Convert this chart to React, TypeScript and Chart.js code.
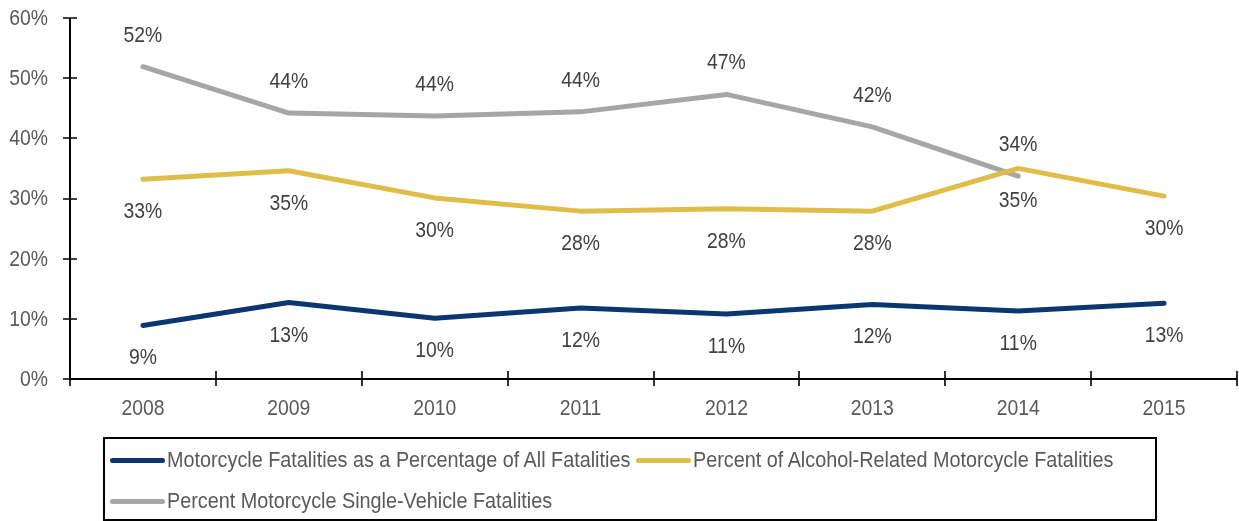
import React, { useEffect, useRef } from "react";
import { Chart, registerables } from "chart.js";

Chart.register(...registerables);

const years = ["2008", "2009", "2010", "2011", "2012", "2013", "2014", "2015"];
const motoShare = [8.9, 12.7, 10.1, 11.8, 10.8, 12.4, 11.3, 12.6];
const alcoholShare = [33.2, 34.6, 30.1, 27.9, 28.3, 27.9, 35.0, 30.4];
const singleVehicle: (number | null)[] = [51.9, 44.2, 43.7, 44.4, 47.3, 41.9, 33.7, null];
const seriesNames = [
  "Motorcycle Fatalities as a Percentage of All Fatalities",
  "Percent of Alcohol-Related Motorcycle Fatalities",
  "Percent Motorcycle Single-Vehicle Fatalities",
];
const seriesColors = ["#0B3770", "#E0BD48", "#A6A6A6"];
const labelOffsets = [33, 33, -31];
const yMin = 0;
const yMax = 60;
const yStep = 10;

const FONT = "'Liberation Sans', Arial, sans-serif";
const FONT_SIZE = 21.5;
const SCALE_X = 0.9;

function drawText(ctx: any, text: string, x: number, y: number, align: string) {
  ctx.save();
  ctx.translate(x, y);
  ctx.scale(SCALE_X, 1);
  ctx.textAlign = align;
  ctx.textBaseline = "middle";
  ctx.fillText(text, 0, 0);
  ctx.restore();
}

const axesPlugin = {
  id: "axesPlugin",
  afterDraw(chart: any) {
    const ctx = chart.ctx;
    const xs = chart.scales.x;
    const ys = chart.scales.y;
    const { left, right, top, bottom } = chart.chartArea;
    ctx.save();
    ctx.strokeStyle = "#000";
    ctx.lineWidth = 2;
    ctx.beginPath();
    ctx.moveTo(left, top);
    ctx.lineTo(left, bottom);
    ctx.moveTo(left - 1, bottom);
    ctx.lineTo(right, bottom);
    ctx.stroke();
    ctx.lineWidth = 1.6;
    ctx.beginPath();
    for (let v = yMin; v <= yMax; v += yStep) {
      const y = Math.round(ys.getPixelForValue(v));
      ctx.moveTo(left - 7, y);
      ctx.lineTo(left + 7, y);
    }
    const n = years.length;
    for (let i = 0; i <= n; i++) {
      const x = Math.round(left + ((right - left) * i) / n);
      ctx.moveTo(x, bottom - 8);
      ctx.lineTo(x, bottom + 7);
    }
    ctx.stroke();

    ctx.font = `${FONT_SIZE}px ${FONT}`;
    ctx.fillStyle = "#595959";
    for (let v = yMin; v <= yMax; v += yStep) {
      drawText(ctx, v + "%", left - 22, ys.getPixelForValue(v) + 1, "right");
    }
    years.forEach((yr, i) => {
      drawText(ctx, yr, xs.getPixelForValue(i), bottom + 30, "center");
    });
    ctx.restore();
  },
};

const labelPlugin = {
  id: "labelPlugin",
  afterDatasetsDraw(chart: any) {
    const ctx = chart.ctx;
    ctx.save();
    ctx.font = `${FONT_SIZE}px ${FONT}`;
    ctx.fillStyle = "#404040";
    chart.data.datasets.forEach((ds: any, di: number) => {
      const meta = chart.getDatasetMeta(di);
      meta.data.forEach((pt: any, i: number) => {
        const v = ds.data[i];
        if (v === null || v === undefined) return;
        drawText(ctx, Math.round(v) + "%", pt.x, pt.y + labelOffsets[di], "center");
      });
    });
    ctx.restore();
  },
};

export default function App() {
  const ref = useRef<HTMLCanvasElement>(null);
  useEffect(() => {
    if (!ref.current) return;
    const mk = (data: any[], i: number) => ({
      label: seriesNames[i],
      data,
      borderColor: seriesColors[i],
      backgroundColor: seriesColors[i],
      borderWidth: 5,
      pointRadius: 0,
      pointHoverRadius: 0,
      tension: 0,
      borderCapStyle: "round",
      borderJoinStyle: "round",
      spanGaps: false,
    });
    const chart = new Chart(ref.current, {
      type: "line",
      data: {
        labels: years,
        datasets: [mk(motoShare, 0), mk(alcoholShare, 1), mk(singleVehicle, 2)],
      },
      options: {
        animation: false,
        responsive: false,
        layout: { padding: { left: 0, right: 2, top: 18, bottom: 102 } },
        plugins: { legend: { display: false }, tooltip: { enabled: false } },
        scales: {
          x: {
            offset: true,
            grid: { display: false, drawTicks: false },
            border: { display: false },
            ticks: { display: false },
            afterFit: (s: any) => {
              s.height = 40;
            },
          },
          y: {
            min: yMin,
            max: yMax,
            grid: { display: false, drawTicks: false },
            border: { display: false },
            ticks: { display: false, stepSize: yStep },
            afterFit: (s: any) => {
              s.width = 70;
            },
          },
        },
      },
      plugins: [axesPlugin, labelPlugin],
    } as any);
    return () => chart.destroy();
  }, []);

  const legendItem = (i: number, left: number, top: number) => (
    <div
      key={i}
      style={{
        position: "absolute",
        left,
        top,
        display: "flex",
        alignItems: "center",
        whiteSpace: "nowrap",
        height: 30,
      }}
    >
      <div
        style={{
          width: 55,
          height: 5,
          borderRadius: 3,
          background: seriesColors[i],
          marginRight: 2,
          flex: "none",
        }}
      />
      <span
        style={{
          fontFamily: FONT,
          fontSize: 22,
          color: "#595959",
          display: "inline-block",
          transform: `scaleX(${SCALE_X})`,
          transformOrigin: "left center",
        }}
      >
        {seriesNames[i]}
      </span>
    </div>
  );

  return (
    <div style={{ position: "absolute", left: 0, top: 0, width: 1239, height: 521, background: "#fff" }}>
      <canvas ref={ref} width={1239} height={521} style={{ position: "absolute", left: 0, top: 0 }} />
      <div
        style={{
          position: "absolute",
          left: 103,
          top: 437,
          width: 1050,
          height: 80,
          border: "2px solid #000",
        }}
      />
      {legendItem(0, 110, 445)}
      {legendItem(1, 636, 445)}
      {legendItem(2, 110, 486)}
    </div>
  );
}
